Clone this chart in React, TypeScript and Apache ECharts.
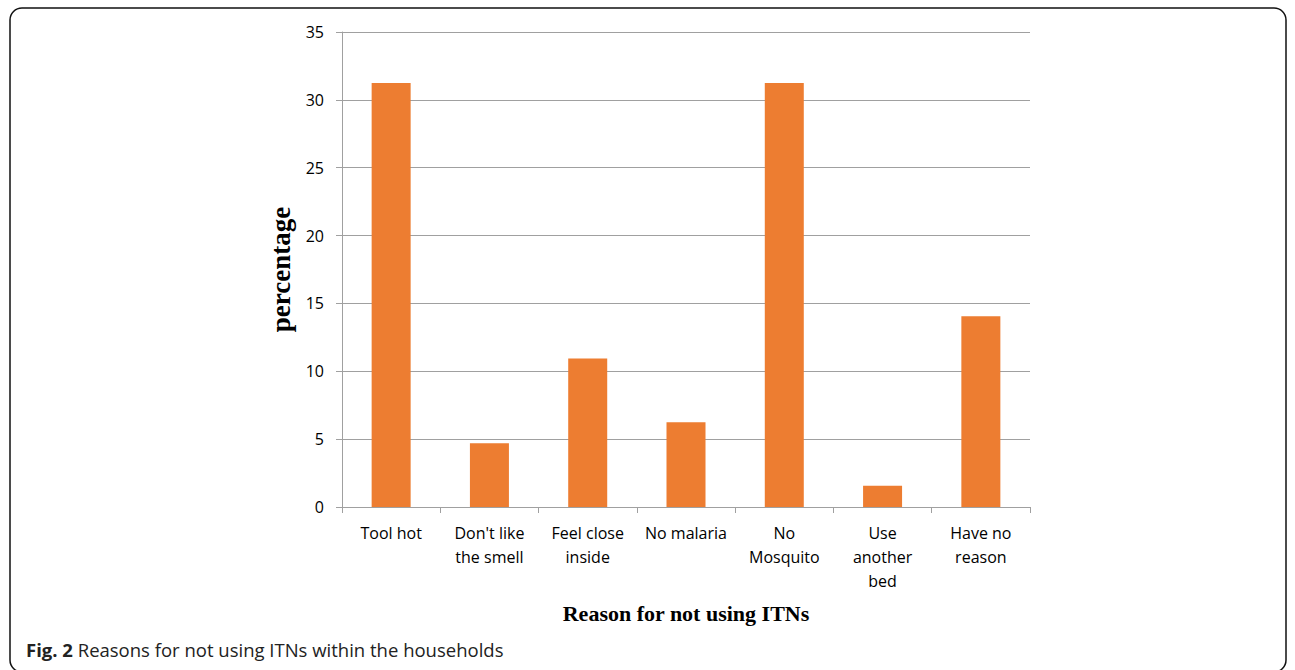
import React, { useEffect, useRef } from "react";
import * as echarts from "echarts";

const categories = [
  "Tool hot",
  "Don't like\nthe smell",
  "Feel close\ninside",
  "No malaria",
  "No\nMosquito",
  "Use\nanother\nbed",
  "Have no\nreason",
];
const percentages = [31.25, 4.69, 10.94, 6.25, 31.25, 1.56, 14.06];
const yTicks = { min: 0, max: 35, interval: 5 };
const yAxisName = "percentage";
const xAxisName = "Reason for not using ITNs";
const captionBold = "Fig. 2";
const captionText = " Reasons for not using ITNs within the households";

export default function App() {
  const ref = useRef<HTMLDivElement>(null);
  useEffect(() => {
    document.body.style.margin = "0";
    const chart = echarts.init(ref.current!, null, { renderer: "svg" });
    chart.setOption({
      animation: false,
      backgroundColor: "#ffffff",
      grid: { left: 342, top: 32, right: 265, bottom: 163 },
      xAxis: {
        type: "category",
        data: categories,
        boundaryGap: true,
        name: xAxisName,
        nameLocation: "middle",
        nameGap: 95,
        nameTextStyle: {
          fontFamily: "Liberation Serif",
          fontWeight: "bold",
          fontSize: 22,
          color: "#000",
        },
        axisLine: { lineStyle: { color: "#a0a0a0", width: 1 } },
        axisTick: { show: true, length: 6, alignWithLabel: false, lineStyle: { color: "#a0a0a0" } },
        axisLabel: {
          interval: 0,
          margin: 14,
          fontFamily: "Open Sans",
          fontSize: 16,
          lineHeight: 24,
          color: "#000",
        },
      },
      yAxis: {
        type: "value",
        min: yTicks.min,
        max: yTicks.max,
        interval: yTicks.interval,
        name: yAxisName,
        nameLocation: "middle",
        nameGap: 47,
        nameRotate: 90,
        nameTextStyle: {
          fontFamily: "Liberation Serif",
          fontWeight: "bold",
          fontSize: 27,
          color: "#000",
        },
        axisLine: { show: true, lineStyle: { color: "#a0a0a0", width: 1 } },
        axisTick: { show: true, length: 6, lineStyle: { color: "#a0a0a0" } },
        axisLabel: {
          margin: 18,
          fontFamily: "Open Sans",
          fontSize: 16,
          color: "#000",
        },
        splitLine: { show: true, lineStyle: { color: "#a0a0a0", width: 1 } },
      },
      series: [
        {
          type: "bar",
          data: percentages,
          barWidth: 39,
          itemStyle: { color: "#ED7D31" },
        },
      ],
      graphic: [
        {
          type: "rect",
          shape: { x: 10, y: 8, width: 1276, height: 664, r: 12 },
          style: { fill: "none", stroke: "#111", lineWidth: 1.5 },
          silent: true,
        },
        {
          type: "text",
          left: 26,
          top: 640,
          style: {
            text: "{b|" + captionBold + "}{n|" + captionText + "}",
            rich: {
              b: { fontFamily: "Open Sans", fontWeight: "bold", fontSize: 18.5, fill: "#222" },
              n: { fontFamily: "Open Sans", fontSize: 18.5, fill: "#222" },
            },
          },
        },
      ],
    });
    return () => chart.dispose();
  }, []);
  return <div ref={ref} style={{ width: 1295, height: 670 }} />;
}
